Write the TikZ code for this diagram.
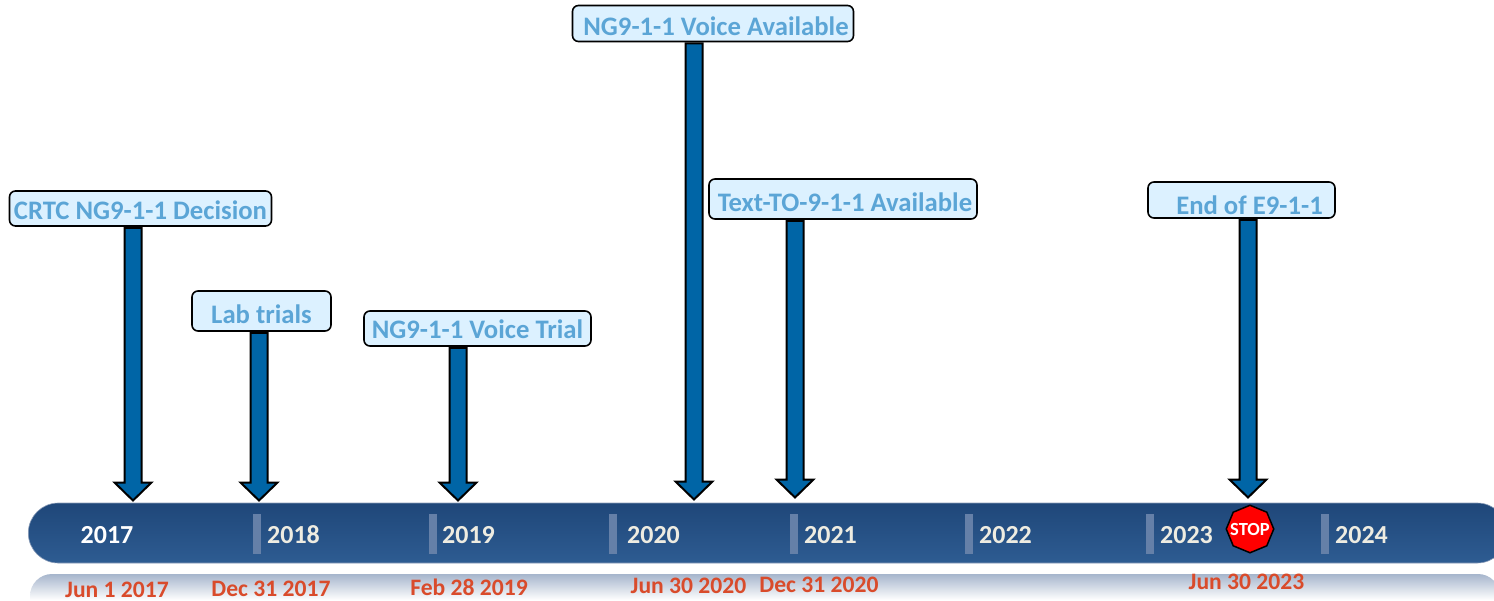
\documentclass[tikz,border=0pt]{standalone}
\usepackage{fontspec}
\setmainfont{Carlito}
\usetikzlibrary{calc,shapes.geometric}
\definecolor{boxfill}{HTML}{DCF1FF}
\definecolor{boxtext}{HTML}{5BA5D6}
\definecolor{arrowfill}{HTML}{0065A6}
\definecolor{bartop}{HTML}{1F4779}
\definecolor{barbot}{HTML}{2E5C92}
\definecolor{baredge}{HTML}{8A9CB8}
\definecolor{sepcol}{HTML}{6580A8}
\definecolor{yearcol}{HTML}{EEECE1}
\definecolor{datecol}{HTML}{D94B2B}
\definecolor{reflect}{HTML}{A6B5CC}
\tikzset{
  evbox/.style={draw=black,line width=1.6pt,fill=boxfill,rounded corners=6pt,inner sep=0pt,
    text=boxtext,font=\bfseries\fontsize{26.7}{26.7}\selectfont},
  blockarrow/.style={draw=black,line width=2pt,fill=arrowfill,line join=miter,miter limit=10},
  yearlabel/.style={text=yearcol,inner sep=0pt,font=\bfseries\fontsize{26}{26}\selectfont},
  datelabel/.style={text=datecol,inner sep=0pt,anchor=base,font=\bfseries\fontsize{23.6}{23.6}\selectfont},
  sepbar/.style={fill=sepcol,draw=none,minimum width=8pt,minimum height=40pt,inner sep=0pt},
  stopsign/.style={regular polygon,regular polygon sides=8,shape border rotate=22.5,
    draw=black,line width=1.5pt,fill=red,text=white,minimum size=47.5pt,inner sep=0pt,
    font=\bfseries\fontsize{18.5}{18.5}\selectfont}
}
% #1 box name, #2 tip coordinate
\newcommand{\blockarr}[2]{%
  \draw[blockarrow] ($(#1.south -| #2)+(-8.5,1)$) -- ($(#2)+(-8.5,-18)$) -- ($(#2)+(-18.5,-18)$)
    -- (#2) -- ($(#2)+(18.5,-18)$) -- ($(#2)+(8.5,-18)$) -- ($(#1.south -| #2)+(8.5,1)$) -- cycle;}
% text set with its baseline #1 below the centre of the box
\newcommand{\dropby}[2]{\raisebox{-#1pt}[0pt][0pt]{#2}}
\begin{document}
\begin{tikzpicture}[x=1pt,y=-1pt]
\useasboundingbox (0,0) rectangle (1494,600);
\begin{scope}
\clip (0,0) rectangle (1494,600);
\shade[top color=reflect,bottom color=white]
  (30,600) [rounded corners=22pt] -- (30,574) -- (1500,574) [sharp corners] -- (1500,600) -- cycle;
\node[name=bar,draw=baredge,line width=0.6pt,rectangle,rounded corners=30pt,top color=bartop,bottom color=barbot,
  minimum width=1479pt,minimum height=60pt,inner sep=0pt,anchor=west] at (28,533) {};
\end{scope}
\foreach \n/\x in {a/257,b/433,c/613,d/794,e/969,f/1150,g/1325}
  \node[sepbar] (sep\n) at (\x,533.5) {};
\node[yearlabel,text=white] (y17) at (107,535) {2017};
\node[yearlabel] (y18) at (293.5,535) {2018};
\node[yearlabel] (y19) at (468.5,535) {2019};
\node[yearlabel] (y20) at (653.5,535) {2020};
\node[yearlabel] (y21) at (830.5,535) {2021};
\node[yearlabel] (y22) at (1005.5,535) {2022};
\node[yearlabel] (y23) at (1186.5,535) {2023};
\node[yearlabel] (y24) at (1361.5,535) {2024};
\node[stopsign] (stop) at (1250,529) {\makebox[0pt]{\dropby{6}{STOP}}};
\node[datelabel] (d1) at (117,597) {Jun 1 2017};
\node[datelabel] (d2) at (271,596.5) {Dec 31 2017};
\node[datelabel] (d3) at (469,595.5) {Feb 28 2019};
\node[datelabel] (d4) at (688.5,593) {Jun 30 2020};
\node[datelabel] (d5) at (819,592.5) {Dec 31 2020};
\node[datelabel] (d6) at (1246.5,589) {Jun 30 2023};
\node[evbox,minimum width=262pt,minimum height=35pt] (crtc) at (140.5,208.5) {\dropby{11}{CRTC NG9-1-1 Decision}};
\node[evbox,minimum width=139pt,minimum height=40pt] (lab) at (261.5,311) {\dropby{12.5}{Lab trials}};
\node[evbox,minimum width=227pt,minimum height=35pt] (trial) at (477.5,328.5) {\dropby{10}{NG9-1-1 Voice Trial}};
\node[evbox,minimum width=281pt,minimum height=36pt] (voice) at (713,23.5) {\dropby{12}{\hspace{6pt}NG9-1-1 Voice Available}};
\node[evbox,minimum width=268pt,minimum height=40pt] (text) at (843,199) {\dropby{12.5}{\hspace{4pt}Text-TO-9-1-1 Available}};
\node[evbox,minimum width=187pt,minimum height=36pt] (end) at (1241.5,200) {\dropby{14.5}{\hspace{16pt}End of E9-1-1}};
\coordinate (t1) at (133,500.5);
\coordinate (t2) at (259,500.5);
\coordinate (t3) at (458,500.5);
\coordinate (t4) at (694,499.5);
\coordinate (t5) at (795,497.5);
\coordinate (t6) at (1248,497.5);
\blockarr{crtc}{t1}
\blockarr{lab}{t2}
\blockarr{trial}{t3}
\blockarr{voice}{t4}
\blockarr{text}{t5}
\blockarr{end}{t6}
\end{tikzpicture}
\end{document}
